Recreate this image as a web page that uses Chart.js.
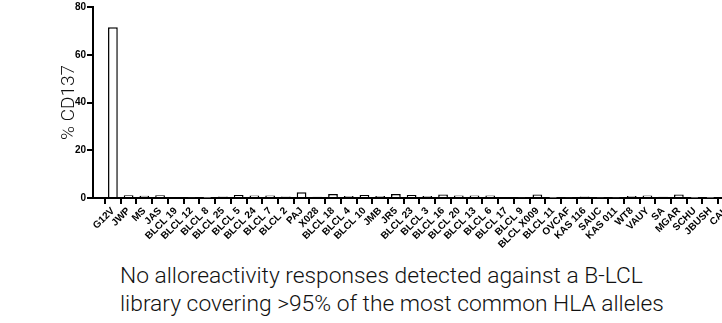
<!DOCTYPE html>
<html>
<head>
<meta charset="utf-8">
<script src="https://cdn.jsdelivr.net/npm/chart.js@4.4.1/dist/chart.umd.min.js"></script>
<style>
  html, body { margin: 0; padding: 0; background: #fff; overflow: hidden; width: 722px; height: 323px; }
  #wrap { position: absolute; left: 0; top: 0; width: 760px; height: 260px; }
  #caption {
    position: absolute; left: 120px; top: 262px;
    font-family: Roboto, "Liberation Sans", sans-serif; font-weight: 300;
    font-size: 22.8px; line-height: 28px; color: #111; white-space: nowrap;
  }
</style>
</head>
<body>
<div id="wrap"><canvas id="grafico"></canvas></div>
<div id="caption">No alloreactivity responses detected against a B-LCL<br>library covering &gt;95% of the most common HLA alleles</div>
<script>
// lineas celulares (eje x)
const lineas = ['G12V', 'JWP', 'MS', 'JAS', 'BLCL 19', 'BLCL 12', 'BLCL 8', 'BLCL 25', 'BLCL 5', 'BLCL 24',
    'BLCL 7', 'BLCL 2', 'PAJ', 'X028', 'BLCL 18', 'BLCL 4', 'BLCL 10', 'JMB', 'JR5', 'BLCL 23',
    'BLCL 3', 'BLCL 16', 'BLCL 20', 'BLCL 13', 'BLCL 6', 'BLCL 17', 'BLCL 9', 'BLCL X009', 'BLCL 11', 'OVCAF',
    'KAS 116', 'SAUC', 'KAS 011', 'WT8', 'VAUY', 'SA', 'MGAR', 'SCHU', 'JBUSH', 'CAL'];

// % CD137 por linea
const cd137 = [71.5, 1.2, 0.9, 1.2, 0.4, 0.3, 0.1, 0.6, 1.3, 1.0,
    1.0, 0.6, 2.4, 0.5, 1.7, 0.8, 1.3, 0.8, 1.7, 1.3,
    0.8, 1.5, 1.0, 1.0, 1.0, 0.4, 0.3, 1.5, 0.1, 0.3,
    0.6, 0.2, 0.2, 0.8, 1.0, 0.5, 1.5, 0.1, 0.1, 0.3];

const ticksY = [0, 20, 40, 60, 80];

const puntos = cd137.map((v, i) => ({ x: i, y: v }));

const fuenteTick = { family: 'Liberation Sans', size: 10, weight: 'bold' };

const ctx = document.getElementById('grafico').getContext('2d');
const myChart = new Chart(ctx, {
    type: 'bar',
    data: {
        datasets: [{
            label: '% CD137',
            data: puntos,
            backgroundColor: '#ffffff',
            borderColor: '#000000',
            borderWidth: 1.5,
            borderSkipped: 'bottom',
            categoryPercentage: 1,
            barPercentage: 0.62
        }]
    },
    options: {
        responsive: true,
        maintainAspectRatio: false,
        animation: false,
        layout: { padding: { top: 7, right: 18, left: 0, bottom: 0 } },
        plugins: { legend: { display: false }, tooltip: { enabled: false } },
        scales: {
            x: {
                type: 'linear',
                min: -0.75,
                max: 39.5,
                grid: { display: true, drawOnChartArea: false, drawTicks: true, tickLength: 6, color: '#000', tickColor: '#000', tickWidth: 2, lineWidth: 2 },
                border: { display: true, color: '#000', width: 2 },
                ticks: {
                    stepSize: 1,
                    includeBounds: false,
                    autoSkip: false,
                    maxRotation: 45,
                    minRotation: 45,
                    padding: 1,
                    color: '#000',
                    font: fuenteTick,
                    callback: (v) => lineas[v] !== undefined ? lineas[v] : ''
                },
                afterFit: (scale) => { scale.height = 62; }
            },
            y: {
                min: 0,
                max: 80,
                afterBuildTicks: (scale) => { scale.ticks = ticksY.map(v => ({ value: v })); },
                grid: { display: true, drawOnChartArea: false, drawTicks: true, tickLength: 6, color: '#000', tickColor: '#000', tickWidth: 2, lineWidth: 2 },
                border: { display: true, color: '#000', width: 2 },
                ticks: { color: '#000', font: fuenteTick, padding: 1 },
                title: {
                    display: true,
                    text: '% CD137',
                    color: '#111',
                    font: { family: 'Roboto', size: 19, weight: '300' },
                    padding: { top: 58, bottom: 0 }
                },
                afterFit: (scale) => { scale.width = 93; }
            }
        }
    }
});
</script>
</body>
</html>
